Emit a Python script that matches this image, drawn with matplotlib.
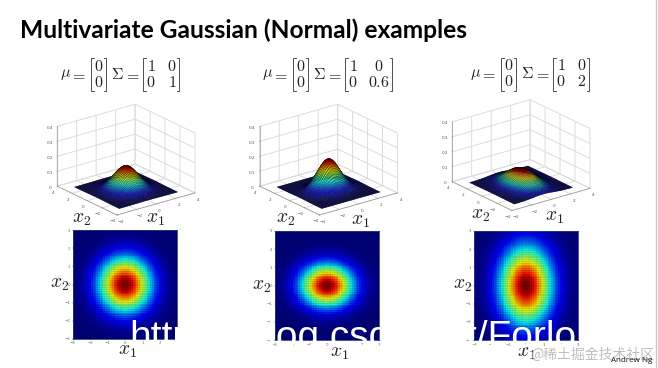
import numpy as np
import matplotlib
matplotlib.use("Agg")
import matplotlib.pyplot as plt
from mpl_toolkits.mplot3d import proj3d

plt.rcParams['mathtext.fontset'] = 'cm'

TITLE = "Multivariate Gaussian (Normal) examples"
MU = [0, 0]
SIGMA_1 = [[1, 0], [0, 1]]
SIGMA_2 = [[1, 0], [0, 0.6]]
SIGMA_3 = [[1, 0], [0, 2]]
SIGMA_LABELS = [[["1", "0"], ["0", "1"]], [["1", "0"], ["0", "0.6"]], [["1", "0"], ["0", "2"]]]
GRID = np.arange(-3, 3.01, 0.1)
XY_TICKS_3D = [-4, -2, 0, 2, 4]
Z_TICKS = [0, 0.1, 0.2, 0.3, 0.4]
HEAT_TICKS = [-3, -2, -1, 0, 1, 2, 3]
WATERMARK = "https://blog.csdn.net/Forlo"
CREDIT = "Andrew Ng"
SITE = "@稀土掘金技术社区"

W, H = 658, 368
fig = plt.figure(figsize=(W / 100, H / 100), dpi=100, facecolor='white')


def density(cov):
    x1, x2 = np.meshgrid(GRID, GRID)
    v1, v2 = cov[0][0], cov[1][1]
    return x1, x2, np.exp(-0.5 * (x1 ** 2 / v1 + x2 ** 2 / v2)) / (2 * np.pi * np.sqrt(v1 * v2))


def surface(cov, left):
    ax = fig.add_axes([0.0, 0.0, 0.35, 0.6], projection='3d', proj_type='ortho', facecolor='none')
    ax.view_init(elev=21.7, azim=-127.5)
    ax.set_box_aspect((98.4, 98.4, 64.5), zoom=1)
    ax.set_xlim(-4, 4, view_margin=0); ax.set_ylim(-4, 4, view_margin=0); ax.set_zlim(0, 0.4, view_margin=0)
    x1, x2, z = density(cov)
    cols = plt.cm.jet(z / z.max())
    ax.plot_surface(x1, x2, z, facecolors=cols, rstride=1, cstride=1, shade=False,
                    edgecolor=(0, 0, 0, 0.9), linewidth=0.15, antialiased=True)
    ax.set_xticks(XY_TICKS_3D); ax.set_yticks(XY_TICKS_3D); ax.set_zticks(Z_TICKS)
    ax.set_zticklabels(['0', '0.1', '0.2', '0.3', '0.4'])
    for a in (ax.xaxis, ax.yaxis, ax.zaxis):
        a.set_pane_color((1, 1, 1, 0))
        a._axinfo['grid'].update(color='#dcdcdc', linewidth=0.7)
        a._axinfo['tick'].update(inward_factor=0.02, outward_factor=0.03, linewidth={True: .3, False: .3})
        a.line.set_color('#999999'); a.line.set_linewidth(0.5)
        a.pane.set_edgecolor('#d4d4d4'); a.pane.set_linewidth(0.6)
    ax.tick_params(labelsize=3, colors='#555555', pad=-3.5, length=1, width=.3)
    fig.canvas.draw()

    def pix(p):
        x, y, _ = proj3d.proj_transform(*p, ax.get_proj())
        return ax.transData.transform((x, y))
    a0 = pix((-4, -4, 0)); a1 = pix((4, -4, 0))
    scale = np.hypot(78, 22) / np.hypot(*(a1 - a0))
    ax.set_box_aspect((98.4, 98.4, 64.5), zoom=scale)
    fig.canvas.draw()
    a0 = pix((-4, -4, 0))
    tx, ty = left
    dx, dy = tx - a0[0], (H - ty) - a0[1]
    p = ax.get_position()
    ax.set_position([p.x0 + dx / W, p.y0 + dy / H, p.width, p.height])
    return ax


FRONTS = [(117, 215), (319.5, 215), (512, 210.5)]
for cov, fr in zip([SIGMA_1, SIGMA_2, SIGMA_3], FRONTS):
    surface(cov, fr)

HEAT_BOXES = [(73, 230, 177, 339), (275, 231, 379, 340), (474, 231, 578, 340)]
for cov, (l, t, r, b) in zip([SIGMA_1, SIGMA_2, SIGMA_3], HEAT_BOXES):
    ax = fig.add_axes([l / W, 1 - b / H, (r - l) / W, (b - t) / H])
    x1, x2, z = density(cov)
    ax.pcolormesh(x1, x2, z, cmap='jet', shading='nearest', edgecolors=(0, 0, 0, 0.05), linewidth=0.12)
    ax.set_xlim(-3, 3); ax.set_ylim(-3, 3)
    ax.set_xticks(HEAT_TICKS); ax.set_yticks(HEAT_TICKS)
    ax.tick_params(labelsize=2.8, colors='#666666', length=0.8, width=.3, pad=1)
    for s in ax.spines.values():
        s.set_color('#2a3a80'); s.set_linewidth(0.6)

ov = fig.add_axes([0, 0, 1, 1], facecolor='none')
ov.set_xlim(0, W); ov.set_ylim(H, 0); ov.axis('off')
ov.text(20, 38, TITLE, family='Lato', weight='bold', fontsize=17.65, color='black', va='baseline')


def bracket(x0, x1, y0, y1):
    ink = '#333333'
    ov.plot([x0 + 2.5, x0, x0, x0 + 2.5], [y0, y0, y1, y1], color=ink, lw=0.6, solid_joinstyle='miter')
    ov.plot([x1 - 2.5, x1, x1, x1 - 2.5], [y0, y0, y1, y1], color=ink, lw=0.6, solid_joinstyle='miter')


def formula(x, y, labels, wide):
    m = dict(fontsize=11.5, color='#222222', va='center', ha='center')
    ov.text(x + 5, y, r'$\mu$', **m)
    ov.text(x + 17, y, '$=$', **m)
    bracket(x + 30, x + 45, y - 16.5, y + 16.5)
    ov.text(x + 37.5, y - 8, '$0$', **m); ov.text(x + 37.5, y + 8, '$0$', **m)
    ov.text(x + 56, y, r'$\Sigma$', **m)
    ov.text(x + 71, y, '$=$', **m)
    bx0 = x + 82
    bx1 = bx0 + wide
    col2 = bx1 - (13 if wide > 40 else 7)
    bracket(bx0, bx1, y - 16.5, y + 16.5)
    ov.text(bx0 + 8, y - 8, '$%s$' % labels[0][0], **m); ov.text(col2, y - 8, '$%s$' % labels[0][1], **m)
    ov.text(bx0 + 8, y + 8, '$%s$' % labels[1][0], **m); ov.text(col2, y + 8, '$%s$' % labels[1][1], **m)


formula(61, 74.5, SIGMA_LABELS[0], 36)
formula(263, 74.5, SIGMA_LABELS[1], 47)
formula(471, 74, SIGMA_LABELS[2], 36)

LABS = [(82, 218, '$x_2$'), (155, 219, '$x_1$'), (286, 219, '$x_2$'), (360, 220, '$x_1$'),
        (481, 214, '$x_2$'), (554, 216, '$x_1$'),
        (60, 283, '$x_2$'), (127, 351, '$x_1$'), (262, 285, '$x_2$'), (339, 352, '$x_1$'),
        (463, 284, '$x_2$'), (526, 352, '$x_1$')]
for x, y, s in LABS:
    ov.text(x, y, s, fontsize=14, ha='center', va='center', color='#222222')

ov.text(129, 348, WATERMARK, family='Liberation Sans', fontsize=28, color='white', va='baseline')
ov.text(530, 355, SITE, family=['Noto Sans CJK SC', 'DejaVu Sans'], fontsize=10, color='#b8b8b8', va='center', alpha=.9)
ov.text(611, 361, CREDIT, family='Open Sans', fontsize=5.8, color='#111111', va='center')
ov.plot([655.5, 655.5], [0, H], color='#c8c8c8', lw=1)

fig.savefig('out.png', dpi=100)
